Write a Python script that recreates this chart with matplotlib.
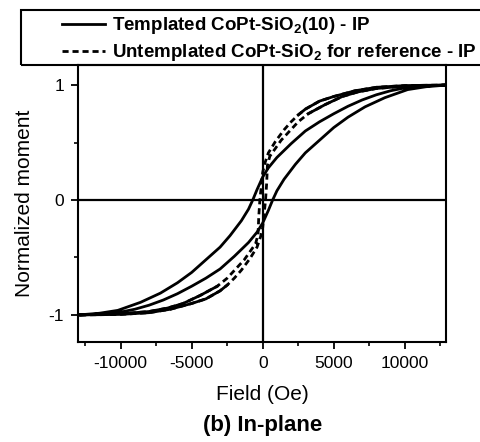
import matplotlib
matplotlib.use("Agg")
import matplotlib.pyplot as plt
from matplotlib.patches import Rectangle
from matplotlib.ticker import MultipleLocator

# ---- data ----
# Templated CoPt-SiO2(10), in-plane: descending branch (from +saturation)
tmpl_desc_H = [13000, 12000, 11000, 10000, 9000, 8000, 7000, 6000, 5000, 4000, 3000, 2000,
               1000, 400, 0, -400, -700, -1000, -1500, -2300, -3000, -4000, -5000,
               -6000, -7200, -8600, -10200, -11500, -13000]
tmpl_desc_M = [1.00, 0.995, 0.99, 0.975, 0.95, 0.915, 0.87, 0.815, 0.75, 0.68, 0.60, 0.49,
               0.37, 0.28, 0.20, 0.09, 0.00, -0.08, -0.18, -0.31, -0.41, -0.52, -0.63,
               -0.72, -0.81, -0.89, -0.96, -0.985, -1.00]
# ascending branch (from -saturation)
tmpl_asc_H = [-13000, -12000, -11000, -10000, -9000, -8000, -7000, -6000, -5000, -4000, -3000, -2000,
              -1000, -400, 0, 400, 700, 1000, 1500, 2300, 3000, 4000, 5000,
              6000, 7200, 8600, 10200, 11500, 13000]
tmpl_asc_M = [-1.00, -0.995, -0.99, -0.975, -0.95, -0.915, -0.87, -0.815, -0.75, -0.68, -0.60, -0.49,
              -0.37, -0.28, -0.20, -0.09, 0.00, 0.08, 0.18, 0.31, 0.41, 0.52, 0.63,
              0.72, 0.81, 0.89, 0.96, 0.985, 1.00]

# Untemplated CoPt-SiO2 reference, in-plane
ref_desc_H = [13000, 10000, 8000, 6500, 5000, 4000, 3000, 2500, 2000, 1500, 900, 400, 150, 0,
              -100, -200, -280, -330, -500, -900, -1300, -1900, -2500, -3200, -4400,
              -5600, -6700, -8000, -9500, -13000]
ref_desc_M = [1.00, 0.995, 0.98, 0.95, 0.90, 0.86, 0.79, 0.74, 0.68, 0.61, 0.51, 0.41, 0.32, 0.24,
              0.12, 0.00, -0.15, -0.30, -0.38, -0.45, -0.52, -0.60, -0.68, -0.75, -0.83,
              -0.90, -0.94, -0.97, -0.985, -1.00]
ref_asc_H = [-13000, -10000, -8000, -6500, -5000, -4000, -3000, -2500, -2000, -1500, -900, -400, -150, 0,
             100, 200, 280, 330, 500, 900, 1300, 1900, 2500, 3200, 4400,
             5600, 6700, 8000, 9500, 13000]
ref_asc_M = [-1.00, -0.995, -0.98, -0.95, -0.90, -0.86, -0.79, -0.74, -0.68, -0.61, -0.51, -0.41, -0.32, -0.24,
             -0.12, 0.00, 0.15, 0.30, 0.38, 0.45, 0.52, 0.60, 0.68, 0.75, 0.83,
             0.90, 0.94, 0.97, 0.985, 1.00]

x_ticks = [-10000, -5000, 0, 5000, 10000]
y_ticks = [-1, 0, 1]
label_tmpl = r"Templated CoPt-SiO$_\mathbf{2}$(10) - IP"
label_ref = r"Untemplated CoPt-SiO$_\mathbf{2}$ for reference - IP"

# ---- style ----
plt.rcParams['font.family'] = ['Liberation Sans', 'DejaVu Sans']
plt.rcParams['mathtext.fontset'] = 'custom'
plt.rcParams['mathtext.rm'] = 'Liberation Sans'
plt.rcParams['mathtext.bf'] = 'Liberation Sans:bold'

W, H = 480, 442
fig = plt.figure(figsize=(W / 100, H / 100), dpi=100)
ax = fig.add_axes([78 / W, 1 - 342 / H, (446 - 78) / W, (342 - 65) / H])

ax.axhline(0, color='black', lw=1.6, zorder=1)
ax.axvline(0, color='black', lw=1.6, zorder=1)

l1, = ax.plot(tmpl_desc_H + tmpl_asc_H, tmpl_desc_M + tmpl_asc_M,
              color='black', lw=2.0, solid_joinstyle='round', zorder=3)
l2, = ax.plot(ref_desc_H + ref_asc_H, ref_desc_M + ref_asc_M,
              color='black', lw=2.0, linestyle=(0, (2.2, 1.4)), zorder=3)

# where both branches of the reference loop coincide the overlapping dashes read as a solid trace
for hs, ms in ((ref_desc_H, ref_desc_M), (ref_asc_H, ref_asc_M)):
    hi = [(h, m) for h, m in zip(hs, ms) if m >= 0.74]
    lo = [(h, m) for h, m in zip(hs, ms) if m <= -0.74]
    for seg in (hi, lo):
        ax.plot([p[0] for p in seg], [p[1] for p in seg], color='black', lw=2.0, zorder=3)

ax.set_xlim(-13000, 12900)
ax.set_ylim(-1.235, 1.174)
ax.set_xticks(x_ticks)
ax.set_xticklabels([str(v) for v in x_ticks])
ax.set_yticks(y_ticks)
ax.set_yticklabels([str(v) for v in y_ticks])
ax.xaxis.set_minor_locator(MultipleLocator(2500))
ax.yaxis.set_minor_locator(MultipleLocator(0.5))
ax.tick_params(axis='both', which='major', direction='out', length=5, width=1.3,
               labelsize=12.5, pad=5, top=False, right=False)
ax.tick_params(axis='both', which='minor', direction='out', length=3, width=1.2,
               top=False, right=False)
for s in ax.spines.values():
    s.set_linewidth(1.5)

ax.set_xlabel("Field (Oe)", fontsize=15)
ax.xaxis.set_label_coords(0.5, -0.155)
ax.set_ylabel("Normalized moment", fontsize=15)
ax.yaxis.set_label_coords(-0.12, 0.5)

# legend box (extends beyond the right edge as in the reference)
box = Rectangle((21 / W, 1 - 65 / H), 1.2, 55 / H, transform=fig.transFigure,
                fill=False, edgecolor='black', lw=1.5, clip_on=False, zorder=5)
fig.add_artist(box)
leg = fig.legend([l1, l2], [label_tmpl, label_ref], loc='upper left',
                 bbox_to_anchor=(62 / W, 1 - 15.5 / H), frameon=False, borderpad=0,
                 borderaxespad=0, handlelength=2.3, handletextpad=0.35,
                 labelspacing=0.3, prop={'weight': 'bold', 'size': 13.5})

fig.text(263 / W, 1 - 426 / H, "(b) In-plane", ha='center', va='center',
         fontsize=16, fontweight='bold')

fig.savefig("out.png", dpi=100)
